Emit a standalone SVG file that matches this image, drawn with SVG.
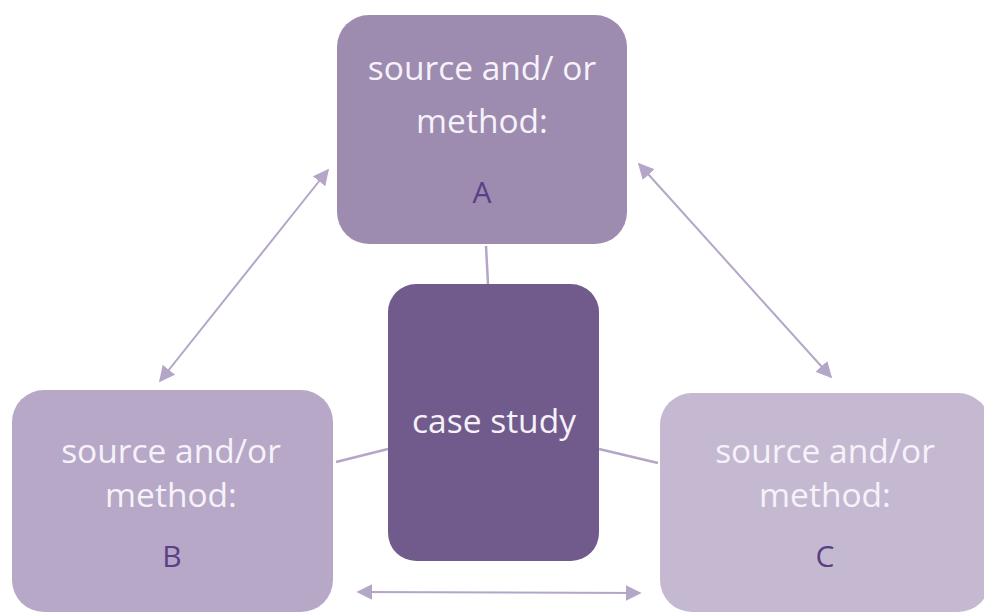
<svg xmlns="http://www.w3.org/2000/svg" width="984" height="614" viewBox="0 0 984 614">
  <style>
    .box-text { font-family: "Open Sans", "Liberation Sans", sans-serif; font-size: 33.5px; fill: #f6f2fa; text-anchor: middle; }
    .letter { font-family: "Open Sans", "Liberation Sans", sans-serif; font-size: 30px; fill: #5a3f86; text-anchor: middle; }
    .link { stroke: #b3a6c7; stroke-width: 2.5; fill: none; }
    .arrow { stroke: #b3a6c7; stroke-width: 2; fill: none; marker-start: url(#head); marker-end: url(#head); }
  </style>
  <defs>
    <marker id="head" viewBox="0 0 10 10" refX="9" refY="5" markerWidth="8" markerHeight="8" orient="auto-start-reverse" markerUnits="strokeWidth">
      <path d="M0,0 L10,5 L0,10 z" fill="#b3a6c7"/>
    </marker>
  </defs>
  <rect width="984" height="614" fill="#ffffff"/>

  <g id="connectors">
    <line class="link" x1="486" y1="246" x2="488" y2="284"/>
    <line class="link" x1="336" y1="462" x2="388" y2="449"/>
    <line class="link" x1="599" y1="449" x2="658" y2="463"/>
    <line class="arrow" x1="160" y1="381" x2="328" y2="170"/>
    <line class="arrow" x1="639" y1="164" x2="831" y2="377"/>
    <line class="arrow" x1="358" y1="592" x2="640" y2="593"/>
  </g>

  <g id="node-a">
    <rect x="337" y="15" width="290" height="229" rx="32" fill="#9d8bb0"/>
    <text class="box-text" x="482" y="80">source and/ or</text>
    <text class="box-text" x="482" y="133">method:</text>
    <text class="letter" x="482" y="203">A</text>
  </g>

  <g id="node-b">
    <rect x="12" y="390" width="321" height="222" rx="32" fill="#b6a8c6"/>
    <text class="box-text" x="171" y="463">source and/or</text>
    <text class="box-text" x="171" y="507">method:</text>
    <text class="letter" x="172" y="567">B</text>
  </g>

  <g id="node-c">
    <rect x="660" y="393" width="330" height="219" rx="32" fill="#c5b9d2"/>
    <text class="box-text" x="825" y="463">source and/or</text>
    <text class="box-text" x="825" y="507">method:</text>
    <text class="letter" x="825" y="567">C</text>
  </g>

  <g id="node-case-study">
    <rect x="388" y="284" width="211" height="277" rx="28" fill="#715b8c"/>
    <text class="box-text" x="494" y="433">case study</text>
  </g>
</svg>
